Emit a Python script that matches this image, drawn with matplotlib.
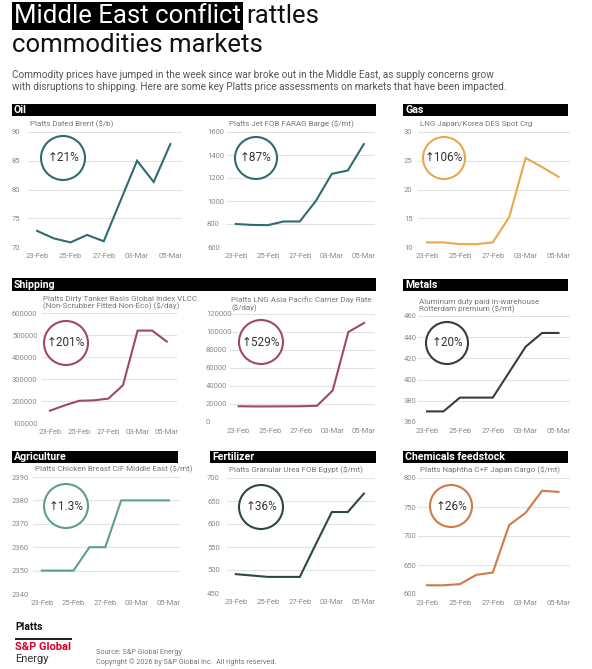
import matplotlib
matplotlib.use("Agg")
import matplotlib.pyplot as plt
from matplotlib.patches import Circle, Rectangle

plt.rcParams['font.family'] = ['Roboto', 'DejaVu Sans']

W, H = 592, 669

# ---- data ----
dates = ["23-Feb", "24-Feb", "25-Feb", "26-Feb", "27-Feb",
         "02-Mar", "03-Mar", "04-Mar", "05-Mar"]
tick_idx = [0, 2, 4, 6, 8]

brent = [72.8, 71.5, 70.8, 72.1, 71.0, 78.0, 85.0, 81.3, 87.9]
jet = [800, 792, 790, 822, 822, 1000, 1236, 1265, 1495]
lng_spot = [10.8, 10.8, 10.5, 10.5, 10.8, 15.2, 25.5, 23.9, 22.2]
tanker = [156000, 180000, 201000, 203000, 211000, 272000, 520000, 520000, 470000]
lng_carrier = [17500, 17300, 17300, 17400, 17500, 18000, 35000, 100000, 110000]
aluminum = [370, 370, 383, 383, 383, 407, 431, 444, 444]
chicken = [2350, 2350, 2350, 2360, 2360, 2380, 2380, 2380, 2380]
urea = [491, 488, 485, 485, 485, 556, 626, 626, 666]
naphtha = [615, 615, 617, 633, 637, 719, 740, 778, 776]

charts = [
    # values, subtitle, yticks, colour, label, axes box (l, t, r, b) px, circle (x, y, r) px, ytick-label x
    (brent, "Platts Dated Brent ($/b)", [70, 75, 80, 85, 90], '#2f6b73', '21%',
     (28, 132, 182, 247), (63, 158, 22), 12),
    (jet, "Platts Jet FOB FARAG Barge ($/mt)", [600, 800, 1000, 1200, 1400, 1600], '#2f6b73', '87%',
     (227, 132, 375, 247), (256, 158, 21), 207),
    (lng_spot, "LNG Japan/Korea DES Spot Crg", [10, 15, 20, 25, 30], '#e9a84a', '106%',
     (418, 132, 570, 247), (444, 158, 21), 404),
    (tanker, "Platts Dirty Tanker Basis Global Index VLCC\n(Non-Scrubber Fitted Non-Eco) ($/day)",
     [100000, 200000, 300000, 400000, 500000, 600000], '#9e4a60', '201%',
     (42, 313, 177, 423), (66, 343, 22), 12),
    (lng_carrier, "Platts LNG Asia Pacific Carrier Day Rate\n($/day)",
     [0, 20000, 40000, 60000, 80000, 100000, 120000], '#9e4a60', '529%',
     (230, 314, 375, 422), (261, 342, 22), 206),
    (aluminum, "Aluminum duty paid in-warehouse\nRotterdam premium ($/mt)",
     [360, 380, 400, 420, 440, 460], '#3b3b3b', '20%',
     (418, 316, 570, 422), (447, 343, 21), 404),
    (chicken, "Platts Chicken Breast CIF Middle East ($/mt)",
     [2340, 2350, 2360, 2370, 2380, 2390], '#5aa283', '1.3%',
     (33, 477, 180, 594), (66, 506, 22), 12),
    (urea, "Platts Granular Urea FOB Egypt ($/mt)",
     [450, 500, 550, 600, 650, 700], '#2f4646', '36%',
     (227, 478, 375, 593), (261, 507, 22), 207),
    (naphtha, "Platts Naphtha C+F Japan Cargo ($/mt)",
     [600, 650, 700, 750, 800], '#cf7a45', '26%',
     (418, 478, 570, 594), (451, 506, 21), 404),
]

headers = [
    ("Oil", 12, 104, 376, 116), ("Gas", 403, 104, 568, 116),
    ("Shipping", 12, 278, 376, 291), ("Metals", 403, 279, 568, 291),
    ("Agriculture", 12, 451, 178, 463), ("Fertilizer", 210, 451, 376, 463),
    ("Chemicals feedstock", 403, 451, 568, 463),
]

fig = plt.figure(figsize=(W / 100, H / 100), dpi=100)
fig.patch.set_facecolor('white')


def fx(x):
    return x / W


def fy(y):
    return 1 - y / H


# title with highlighted first part
t1 = fig.text(fx(14), fy(16), "Middle East conflict", fontsize=18.5, color='white',
              va='center', ha='left',
              bbox=dict(facecolor='black', edgecolor='none', pad=1.5))
fig.canvas.draw()
bb = t1.get_window_extent(fig.canvas.get_renderer())
fig.text(bb.x1 / W + fx(5), fy(16), "rattles", fontsize=18.5, color='#111111',
         va='center', ha='left')
fig.text(fx(12), fy(45), "commodities markets", fontsize=18.5, color='#111111',
         va='center', ha='left')

fig.text(fx(12), fy(75), "Commodity prices have jumped in the week since war broke out in the Middle East, "
         "as supply concerns grow", fontsize=7.2, color='#555555', va='center')
fig.text(fx(12), fy(87), "with disruptions to shipping. Here are some key Platts price assessments on "
         "markets that have been impacted.", fontsize=7.2, color='#555555', va='center')

# section header bars
for name, l, t, r, b in headers:
    fig.patches.append(Rectangle((fx(l), fy(b)), fx(r - l), (b - t) / H,
                                 transform=fig.transFigure, facecolor='black',
                                 edgecolor='none'))
    fig.text(fx(l + 2), fy((t + b) / 2), name, fontsize=7.6, fontweight='bold',
             color='white', va='center', ha='left')

x = list(range(len(dates)))

for vals, sub, yt, col, pct, box, circ, lblx in charts:
    l, t, r, b = box
    ax = fig.add_axes([fx(l), fy(b), fx(r - l), (b - t) / H])
    ax.plot(x, vals, color=col, lw=1.5, solid_joinstyle='miter')
    ax.set_xlim(-0.55, 8.7)
    ax.set_ylim(yt[0], yt[-1])
    ax.set_yticks(yt)
    ax.set_yticklabels([str(v) for v in yt])
    ax.set_xticks(tick_idx)
    ax.set_xticklabels([dates[i] for i in tick_idx])
    ax.grid(axis='y', color='#e2e2e2', lw=0.8)
    ax.set_axisbelow(True)
    for s in ax.spines.values():
        s.set_visible(False)
    ax.tick_params(axis='both', length=0, labelsize=5.5, labelcolor='#8a8a8a')
    ax.tick_params(axis='x', pad=4.5)
    ax.tick_params(axis='y', pad=(l - lblx) * 0.72)
    for lab in ax.get_yticklabels():
        lab.set_ha('left')
    # subtitle
    nlines = sub.count("\n")
    sub_y = t - 8 if nlines == 0 else t - 10
    fig.text(fx(l + 2 if nlines == 0 else l + 1), fy(sub_y), sub, fontsize=5.8,
             color='#777777', va='center', ha='left', linespacing=1.15)
    # percent circle
    cx, cy, cr = circ
    fig.patches.append(Circle((cx / 100, (H - cy) / 100), cr / 100,
                              transform=fig.dpi_scale_trans, facecolor='white',
                              edgecolor=col, lw=1.5, zorder=5))
    fig.text(fx(cx), fy(cy), "\u2191" + pct, fontsize=8.5, color='#333333',
             ha='center', va='center', zorder=6)

# footer
fig.text(fx(15), fy(627), "Platts", fontsize=7.5, fontweight='bold', color='#111111',
         va='center', ha='left')
fig.patches.append(Rectangle((fx(15), fy(639.5)), fx(57), 1.2 / H,
                             transform=fig.transFigure, facecolor='#222222',
                             edgecolor='none'))
fig.text(fx(15), fy(647), "S&P Global", fontsize=8, fontweight='bold', color='#d6002a',
         va='center', ha='left')
fig.text(fx(15), fy(659), "Energy", fontsize=8, color='#333333',
         va='center', ha='left')
fig.text(fx(96), fy(652), "Source: S&P Global Energy", fontsize=5.2, color='#777777',
         va='center', ha='left')
fig.text(fx(96), fy(662), "Copyright \u00a9 2026 by S&P Global Inc.  All rights reserved.",
         fontsize=5.2, color='#777777', va='center', ha='left')

fig.savefig("out.png", dpi=100, facecolor='white')
